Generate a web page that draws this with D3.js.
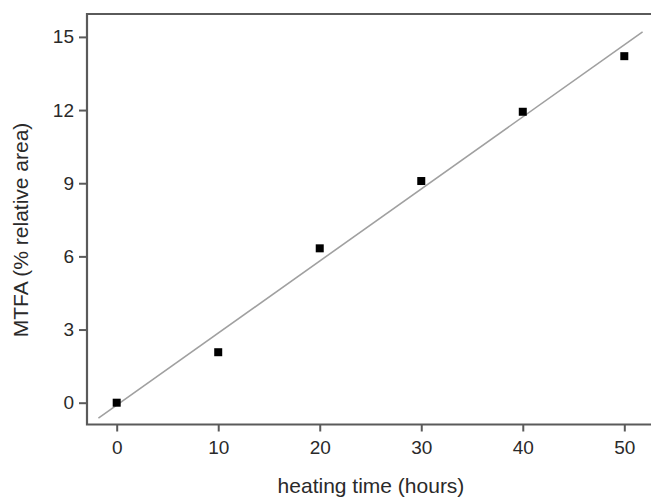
<!DOCTYPE html>
<html><head><meta charset="utf-8">
<script src="https://cdn.jsdelivr.net/npm/d3@7"></script>
<style>body{margin:0;background:#fff}svg{display:block}text{font-family:"Liberation Sans",Arial,sans-serif}</style>
</head><body><svg id="c" width="651" height="499"></svg>
<script>
const hours = [0, 10, 20, 30, 40, 50];
const mtfa = [0, 2.07, 6.33, 9.09, 11.93, 14.21];
const xTicks = [0, 10, 20, 30, 40, 50];
const yTicks = [0, 3, 6, 9, 12, 15];
const fitSlope = 0.2955, fitIntercept = -0.1;
const fitRange = [-1.8, 51.8];

(function(){
const svg = d3.select("#c");
const x = d3.scaleLinear().domain([0, 50]).range([116.7, 624.3]);
const y = d3.scaleLinear().domain([0, 15]).range([402.7, 36.9]);
const pLeft = 87, pTop = 14, pBottom = 424.5, pRight = 660;

const axisColor = "#5a5a5a";
svg.append("path").attr("d", `M${pRight},${pTop}H${pLeft}V${pBottom}H${pRight}`)
  .attr("fill","none").attr("stroke",axisColor).attr("stroke-width",2.2);

const ya = svg.append("g").attr("transform",`translate(${pLeft},0)`)
  .call(d3.axisLeft(y).tickValues(yTicks).tickSize(8).tickPadding(5));
ya.select(".domain").remove();
ya.selectAll("line").attr("stroke",axisColor).attr("stroke-width",2);
ya.selectAll("text").attr("font-size",19).attr("fill","#2a2a2a").attr("font-family","Liberation Sans, Arial, sans-serif");

const xa = svg.append("g").attr("transform",`translate(0,${pBottom})`)
  .call(d3.axisBottom(x).tickValues(xTicks).tickSize(7).tickPadding(9));
xa.select(".domain").remove();
xa.selectAll("line").attr("stroke",axisColor).attr("stroke-width",2);
xa.selectAll("text").attr("font-size",19).attr("fill","#2a2a2a").attr("font-family","Liberation Sans, Arial, sans-serif");

svg.append("line")
  .attr("x1", x(fitRange[0])).attr("y1", y(fitIntercept + fitSlope*fitRange[0]))
  .attr("x2", x(fitRange[1])).attr("y2", y(fitIntercept + fitSlope*fitRange[1]))
  .attr("stroke","#a0a0a0").attr("stroke-width",1.6);

const s = 8;
svg.selectAll("rect.pt").data(hours).join("rect").attr("class","pt")
  .attr("x", (d)=>x(d)-s/2).attr("y",(d,i)=>y(mtfa[i])-s/2)
  .attr("width",s).attr("height",s).attr("fill","#000");

svg.append("text").attr("x",371).attr("y",493).attr("text-anchor","middle")
  .attr("font-size",21).attr("fill","#2a2a2a").text("heating time (hours)");
svg.append("text").attr("transform","translate(28,230) rotate(-90)").attr("text-anchor","middle")
  .attr("font-size",21).attr("fill","#2a2a2a").text("MTFA (% relative area)");
})();
</script></body></html>
